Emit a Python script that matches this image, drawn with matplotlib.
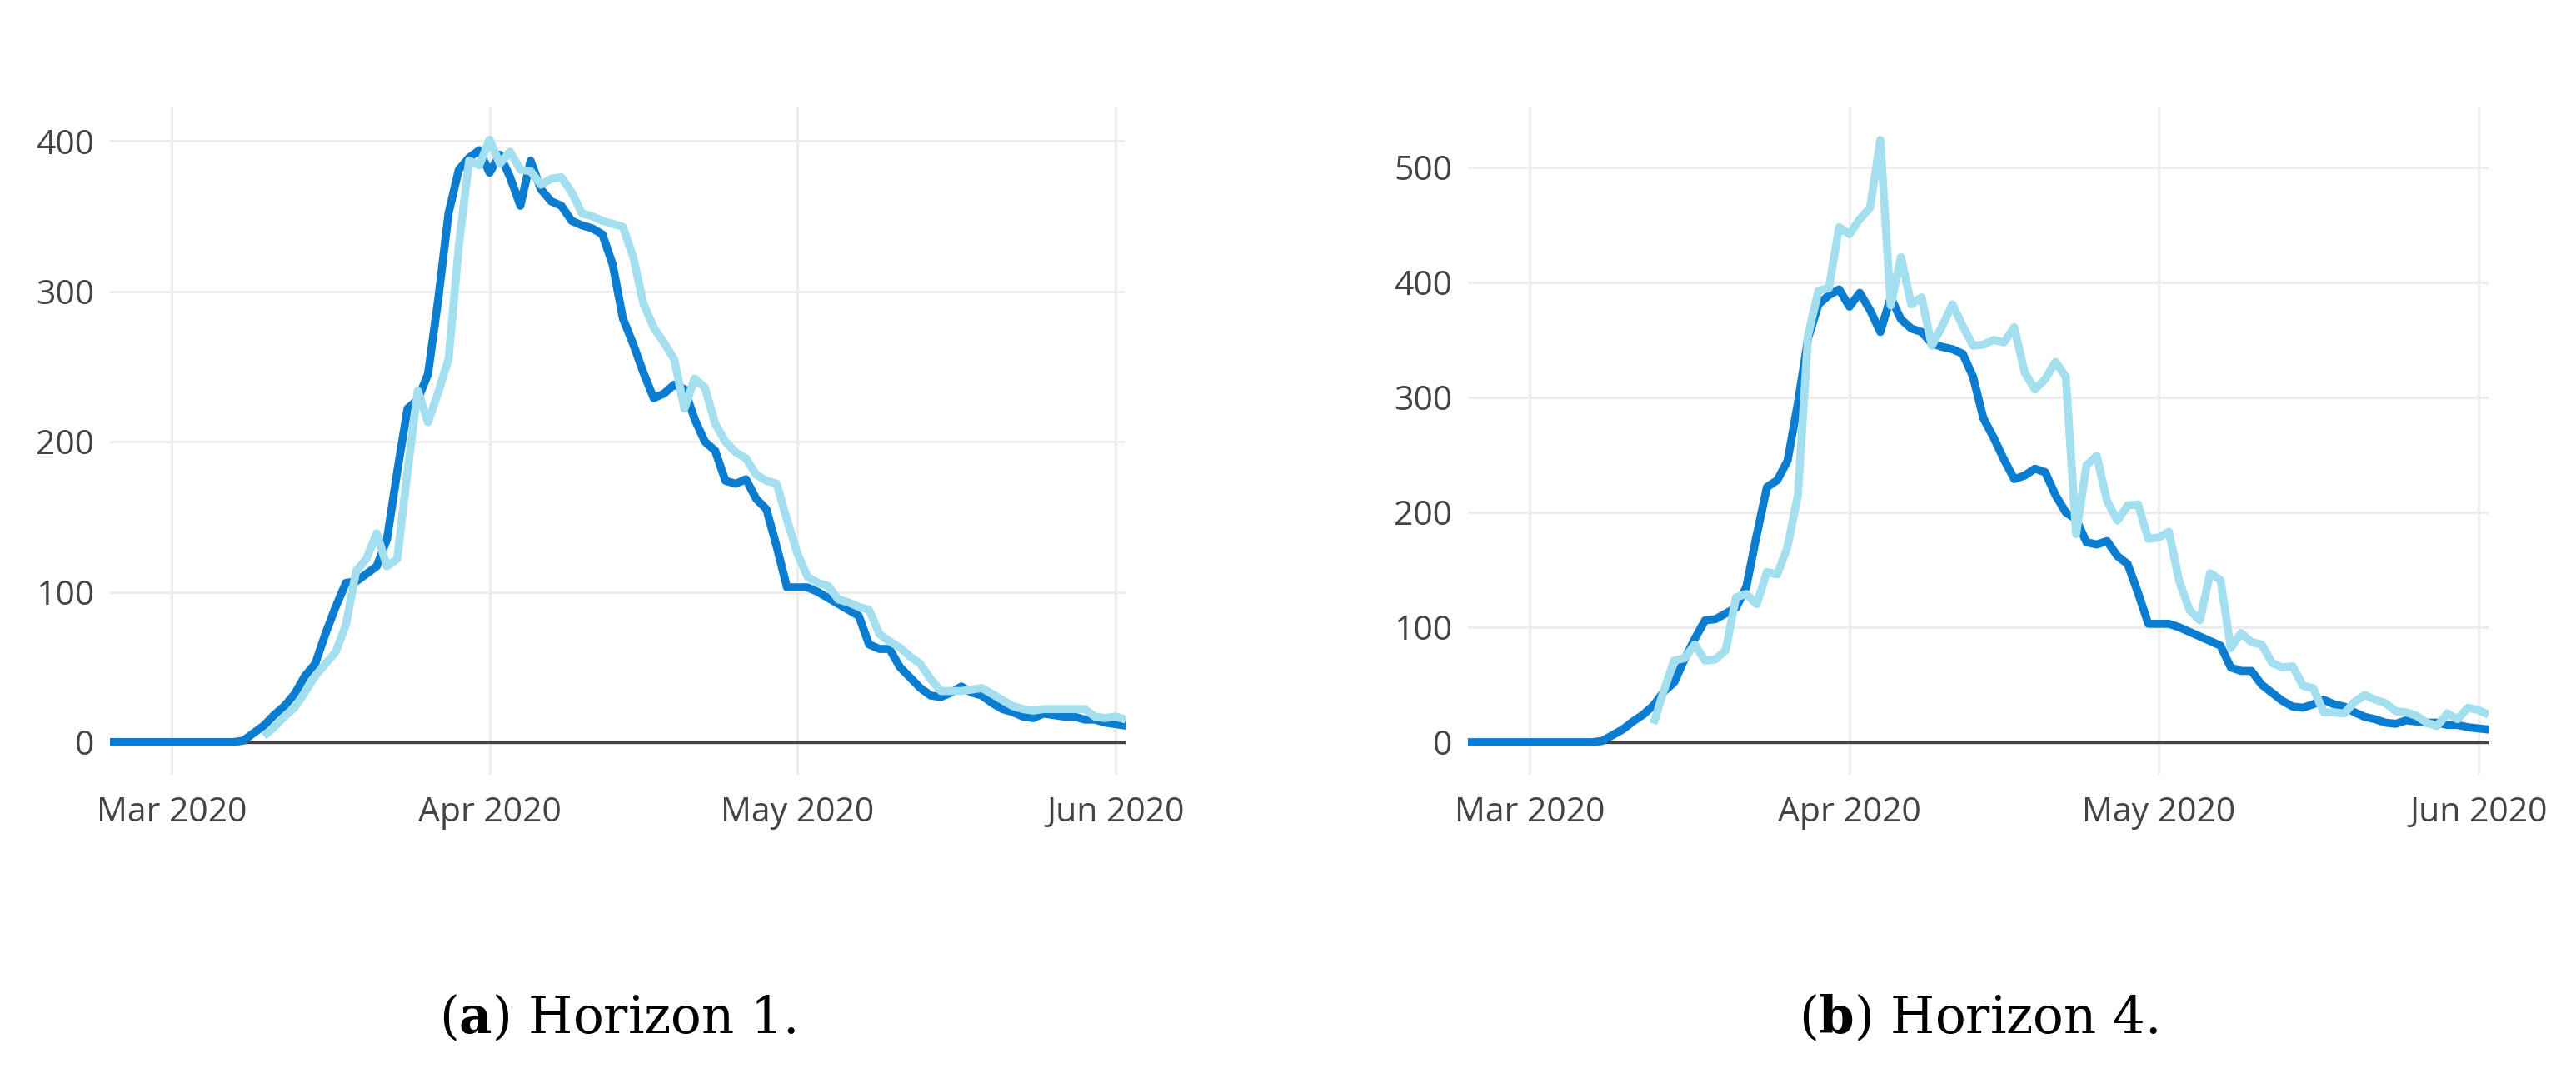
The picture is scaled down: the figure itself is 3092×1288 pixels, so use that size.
import matplotlib
matplotlib.use("Agg")
import matplotlib.pyplot as plt
import matplotlib.dates as mdates
import numpy as np
import pandas as pd

# daily values, Feb 24 2020 .. Jun 2 2020
start_date = "2020-02-24"
actual = [
    0, 0, 0, 0, 0, 0, 0, 0, 0, 0, 0, 0, 0,            # Feb 24 - Mar 7
    1, 6, 11, 18, 24, 32, 44, 52, 72, 90,              # Mar 8 - Mar 17
    106, 107, 112, 117, 135, 180, 222, 228, 245, 295,  # Mar 18 - Mar 27
    352, 381, 389, 394,                                # Mar 28 - Mar 31
    379, 391, 376, 357, 387, 368, 360, 357, 347, 344,  # Apr 1 - Apr 10
    342, 338, 318, 282, 265, 246, 229, 232, 238, 235,  # Apr 11 - Apr 20
    215, 200, 194, 174, 172, 175, 162, 155, 130, 103,  # Apr 21 - Apr 30
    103, 103, 100, 96, 92, 88, 84, 65, 62, 62,         # May 1 - May 10
    50, 43, 36, 31, 30, 33, 37, 33, 31, 26,            # May 11 - May 20
    22, 20, 17, 16, 19, 18, 17, 17, 15, 15,            # May 21 - May 30
    13, 12, 11,                                        # May 31 - Jun 2
]

# horizon 1 forecast, Mar 10 .. Jun 2
h1_start = "2020-03-10"
horizon1 = [
    4, 10, 17, 23, 33, 44, 52, 60, 78, 114,            # Mar 10 - Mar 19
    122, 139, 117, 122, 180, 234, 213, 233, 255, 330,  # Mar 20 - Mar 29
    387, 384,                                          # Mar 30 - Mar 31
    401, 385, 393, 381, 380, 371, 375, 376, 366, 352,  # Apr 1 - Apr 10
    350, 347, 345, 343, 323, 292, 276, 266, 255, 222,  # Apr 11 - Apr 20
    242, 236, 212, 200, 193, 189, 178, 174, 172, 148,  # Apr 21 - Apr 30
    126, 110, 106, 104, 95, 93, 90, 88, 72, 67,        # May 1 - May 10
    63, 57, 52, 42, 34, 34, 34, 35, 36, 32,            # May 11 - May 20
    28, 24, 22, 21, 22, 22, 22, 22, 22, 17,            # May 21 - May 30
    16, 17, 15,                                        # May 31 - Jun 2
]

# horizon 4 forecast, Mar 13 .. Jun 2
h4_start = "2020-03-13"
horizon4 = [
    16, 45, 71, 73, 85, 71, 72, 80, 126, 129,          # Mar 13 - Mar 22
    120, 148, 146, 170, 215, 355, 393, 395, 448,       # Mar 23 - Mar 31
    442, 455, 465, 524, 380, 422, 381, 387, 345, 362,  # Apr 1 - Apr 10
    381, 362, 345, 346, 350, 348, 361, 322, 307, 316,  # Apr 11 - Apr 20
    331, 318, 181, 241, 249, 210, 193, 206, 207, 177,  # Apr 21 - Apr 30
    178, 183, 140, 115, 106, 147, 141, 82, 95, 87,     # May 1 - May 10
    85, 69, 65, 66, 49, 47, 26, 26, 25, 35,            # May 11 - May 20
    41, 37, 34, 27, 26, 23, 17, 14, 25, 20,            # May 21 - May 30
    30, 28, 24,                                        # May 31 - Jun 2
]

panels = [
    {"pred": horizon1, "pred_start": h1_start, "yticks": [0, 100, 200, 300, 400],
     "ylim": (-21.7, 423), "caption": r"($\mathbf{a}$) Horizon 1."},
    {"pred": horizon4, "pred_start": h4_start, "yticks": [0, 100, 200, 300, 400, 500],
     "ylim": (-28.3, 553), "caption": r"($\mathbf{b}$) Horizon 4."},
]

DARK = "#0b7dd1"
LIGHT = "#a4dfef"

plt.rcParams["mathtext.fontset"] = "dejavuserif"

fig = plt.figure(figsize=(30.92, 12.88), dpi=100)
positions = [
    [132 / 3092, 1 - 930 / 1288, 1219 / 3092, 802 / 1288],
    [1762 / 3092, 1 - 930 / 1288, 1225 / 3092, 802 / 1288],
]

dates_actual = pd.date_range(start_date, periods=len(actual), freq="D")

for pos, p in zip(positions, panels):
    ax = fig.add_axes(pos)
    dates_pred = pd.date_range(p["pred_start"], periods=len(p["pred"]), freq="D")

    ax.axhline(0, color="#444444", lw=2.4, zorder=2)
    ax.plot(dates_actual, actual, color=DARK, lw=7, zorder=3,
            solid_joinstyle="round")
    ax.plot(dates_pred, p["pred"], color=LIGHT, lw=7, zorder=4,
            solid_joinstyle="round", solid_capstyle="butt")

    ax.set_xlim(dates_actual[0], dates_actual[-1])
    ax.set_ylim(*p["ylim"])
    ax.set_yticks(p["yticks"])
    ax.xaxis.set_major_locator(mdates.MonthLocator())
    ax.xaxis.set_major_formatter(mdates.DateFormatter("%b %Y"))

    ax.grid(True, color="#ededed", lw=2.2, zorder=0)
    ax.set_axisbelow(True)
    for s in ax.spines.values():
        s.set_visible(False)
    ax.tick_params(axis="both", length=0, labelsize=29.5, labelcolor="#444444")
    ax.tick_params(axis="y", pad=13.5)
    ax.tick_params(axis="x", pad=18.5)
    for lab in ax.get_xticklabels() + ax.get_yticklabels():
        lab.set_fontfamily("Open Sans")

    cx = pos[0] + pos[2] / 2
    fig.text(cx, 48 / 1288, p["caption"], ha="center", va="baseline",
             fontsize=44, family="DejaVu Serif", color="black")

fig.savefig("out.png", dpi=100, facecolor="white")
